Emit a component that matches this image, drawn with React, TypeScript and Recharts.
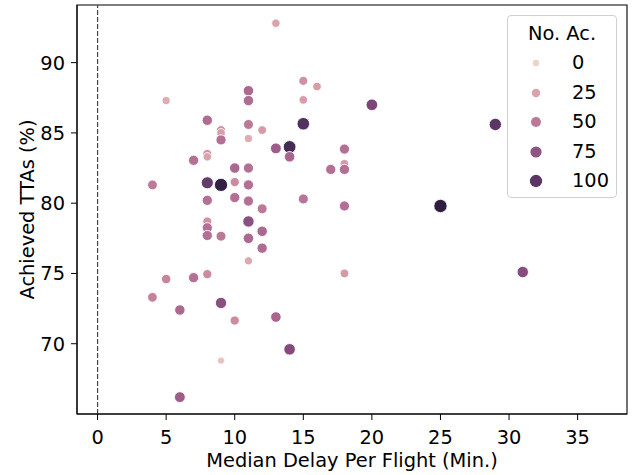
import React from 'react'
import {
  ScatterChart,
  Scatter,
  XAxis,
  YAxis,
  ReferenceLine,
  ReferenceArea,
  Legend
} from 'recharts'

// Median delay per flight (min.)
const delay = [
  13, 15, 16, 11, 11, 5, 15, 8, 15, 9, 9, 9, 11, 12, 11, 13, 14, 14, 18, 18,
  18, 17, 8, 8, 7, 10, 11, 4, 8, 9, 10, 11, 8, 10, 11, 12, 15, 18, 8, 8,
  8, 9, 11, 11, 12, 12, 11, 8, 18, 5, 7, 4, 9, 6, 10, 13, 14, 9, 6, 20,
  29, 25, 31
]

// Achieved TTAs (%)
const achieved = [
  92.8, 88.7, 88.3, 88.0, 87.3, 87.3, 87.35, 85.9, 85.65, 85.2, 85.0, 84.5, 85.6, 85.2, 84.6, 83.9, 84.0, 83.3, 83.85, 82.8,
  82.4, 82.4, 83.5, 83.3, 83.05, 82.5, 82.5, 81.3, 81.45, 81.3, 81.5, 81.3, 80.2, 80.4, 80.15, 79.6, 80.3, 79.8, 78.7, 78.25,
  77.7, 77.65, 78.7, 77.5, 78.0, 76.8, 75.9, 74.95, 75.0, 74.6, 74.7, 73.3, 72.9, 72.4, 71.65, 71.9, 69.6, 68.8, 66.2, 87.0,
  85.6, 79.8, 75.1
]

// No. Ac.
const aircraft = [
  25, 35, 28, 60, 58, 20, 28, 58, 105, 35, 28, 55, 50, 30, 20, 68, 110, 62, 55, 30,
  55, 55, 35, 25, 55, 60, 55, 48, 95, 120, 38, 55, 55, 55, 55, 50, 52, 55, 35, 55,
  55, 50, 78, 60, 60, 58, 22, 38, 30, 42, 55, 45, 78, 60, 38, 62, 82, 8, 68, 85,
  100, 122, 80
]

const legendLevels = [0, 25, 50, 75, 100]
const xTicks = [0, 5, 10, 15, 20, 25, 30, 35]
const yTicks = [70, 75, 80, 85, 90]

const AC_MIN = 0
const AC_MAX = 122
const FONT = 'DejaVu Sans, sans-serif'
const FS = 19.4

const data = delay.map((d, i) => ({ x: d, y: achieved[i], ac: aircraft[i] }))

// seaborn default cubehelix ramp (light -> dark)
function colorFor(ac: number) {
  const t = Math.max(0, Math.min(1, (ac - AC_MIN) / (AC_MAX - AC_MIN)))
  const x = 0.85 - 0.7 * t
  const a = (0.8 * x * (1 - x)) / 2
  const phi = 2 * Math.PI * (0.4 * x)
  const c = Math.cos(phi)
  const s = Math.sin(phi)
  const r = x + a * (-0.14861 * c + 1.78277 * s)
  const g = x + a * (-0.29227 * c - 0.90649 * s)
  const b = x + a * (1.97294 * c)
  const h = (v: number) => Math.round(Math.max(0, Math.min(1, v)) * 255).toString(16).padStart(2, '0')
  return `#${h(r)}${h(g)}${h(b)}`
}

function radiusFor(ac: number) {
  const t = Math.max(0, Math.min(1, (ac - AC_MIN) / (AC_MAX - AC_MIN)))
  const area = 18 + 54 * t // pt^2
  return Math.sqrt(area / Math.PI) * (100 / 72)
}

const Dot = (props: any) => {
  const { cx, cy, payload } = props
  if (cx == null || cy == null) return null
  return (
    <circle
      cx={cx}
      cy={cy}
      r={radiusFor(payload.ac)}
      fill={colorFor(payload.ac)}
      stroke="#fff"
      strokeWidth={0.9}
    />
  )
}

const HueLegend = () => (
  <div
    style={{
      width: 110,
      height: 183,
      boxSizing: 'border-box',
      border: '1px solid #d0d0d0',
      borderRadius: 4,
      background: 'rgba(255,255,255,0.8)',
      fontFamily: FONT,
      fontSize: FS,
      color: '#000',
      position: 'relative'
    }}
  >
    <div style={{ position: 'absolute', top: 6, left: 0, width: '100%', textAlign: 'center', lineHeight: '24px' }}>
      No. Ac.
    </div>
    {legendLevels.map((lv, i) => {
      const r = radiusFor(lv)
      return (
        <div key={lv} style={{ position: 'absolute', top: 35 + i * 29.5, left: 0, height: 24, width: '100%' }}>
          <svg width={24} height={24} style={{ position: 'absolute', left: 16, top: 0 }}>
            <circle cx={12} cy={12} r={r} fill={colorFor(lv)} />
          </svg>
          <span style={{ position: 'absolute', left: 64, top: 0, lineHeight: '24px' }}>{lv}</span>
        </div>
      )
    })}
  </div>
)

export default function App() {
  return (
    <div style={{ position: 'absolute', left: 0, top: 0, width: 636, height: 475, background: '#fff' }}>
      <ScatterChart width={636} height={475} margin={{ top: 5, right: 9, left: 0, bottom: 0 }}>
        <XAxis
          type="number"
          dataKey="x"
          domain={[-1.5, 38.6]}
          ticks={xTicks}
          allowDataOverflow
          height={61}
          tickSize={6}
          tickMargin={10}
          stroke="#000"
          tick={{ fill: '#000', fontSize: FS, fontFamily: FONT }}
          label={{
            value: 'Median Delay Per Flight (Min.)',
            position: 'insideBottom',
            offset: 8,
            fill: '#000',
            fontSize: FS,
            fontFamily: FONT
          }}
        />
        <YAxis
          type="number"
          dataKey="y"
          domain={[65, 94.1]}
          ticks={yTicks}
          allowDataOverflow
          width={77}
          tickSize={6}
          tickMargin={6}
          stroke="#000"
          tick={{ fill: '#000', fontSize: FS, fontFamily: FONT }}
          label={{
            value: 'Achieved TTAs (%)',
            angle: -90,
            position: 'insideLeft',
            offset: 27,
            fill: '#000',
            fontSize: FS,
            fontFamily: FONT,
            style: { textAnchor: 'middle' }
          }}
        />
        <ReferenceLine x={0} stroke="#444" strokeWidth={1.2} strokeDasharray="5 2" />
        <Scatter data={data} shape={<Dot />} isAnimationActive={false} />
        <ReferenceArea x1={-1.5} x2={38.6} y1={65} y2={94.1} fill="none" stroke="#000" strokeWidth={1.1} />
        <Legend
          layout="vertical"
          align="center"
          verticalAlign="middle"
          content={<HueLegend />}
          wrapperStyle={{ position: 'absolute', left: 507, top: 15, width: 110 }}
        />
      </ScatterChart>
    </div>
  )
}
